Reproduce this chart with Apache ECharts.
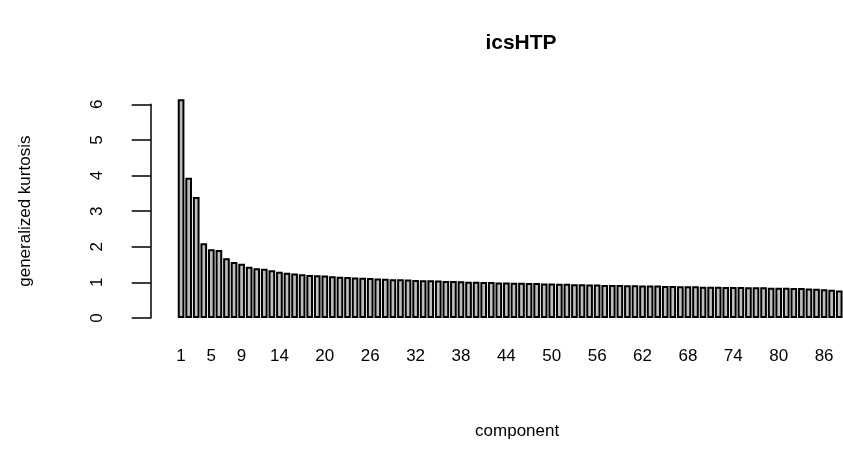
<!DOCTYPE html>
<html>
<head>
<meta charset="utf-8">
<script src="https://cdn.jsdelivr.net/npm/echarts@6/dist/echarts.min.js"></script>
<style>html,body{margin:0;padding:0;background:#fff;}#c{width:843px;height:473px;}</style>
</head>
<body>
<div id="c"></div>
<script>
const components = [];
for (let i = 1; i <= 88; i++) components.push(String(i));
const kurtosis = [6.14, 3.94, 3.40, 2.10, 1.93, 1.91, 1.68, 1.57, 1.52, 1.44,
  1.40, 1.38, 1.34, 1.30, 1.27, 1.25, 1.23, 1.21, 1.20, 1.19,
  1.17, 1.16, 1.15, 1.14, 1.13, 1.12, 1.11, 1.10, 1.09, 1.09,
  1.08, 1.07, 1.06, 1.06, 1.05, 1.04, 1.04, 1.03, 1.02, 1.02,
  1.01, 1.01, 1.00, 1.00, 0.99, 0.99, 0.98, 0.98, 0.97, 0.97,
  0.96, 0.96, 0.95, 0.95, 0.94, 0.94, 0.93, 0.93, 0.93, 0.92,
  0.92, 0.91, 0.91, 0.91, 0.90, 0.90, 0.89, 0.89, 0.89, 0.88,
  0.88, 0.88, 0.87, 0.87, 0.87, 0.86, 0.86, 0.86, 0.85, 0.85,
  0.85, 0.84, 0.84, 0.83, 0.82, 0.81, 0.79, 0.77];
const xTickLabels = ['1','5','9','14','20','26','32','38','44','50','56','62','68','74','80','86'];
const yTicks = [0, 1, 2, 3, 4, 5, 6];

const FONT = 'Liberation Sans, Arial, sans-serif';
const chart = echarts.init(document.getElementById('c'), null, {renderer: 'canvas'});
chart.setOption({
  animation: false,
  backgroundColor: '#ffffff',
  title: {
    text: 'icsHTP', left: 516, top: 28, textAlign: 'center',
    textStyle: {fontFamily: FONT, fontSize: 21, fontWeight: 'bold', color: '#000'}
  },
  grid: {left: 177.3, top: 104.3, width: 669.7, bottom: 155, containLabel: false},
  xAxis: {
    type: 'category', data: components,
    axisLine: {show: false}, axisTick: {show: false}, splitLine: {show: false},
    axisLabel: {
      interval: (idx, val) => xTickLabels.indexOf(val) >= 0,
      margin: 30, fontFamily: FONT, fontSize: 17, color: '#000'
    },
    name: 'component', nameLocation: 'middle', nameGap: 105,
    nameTextStyle: {fontFamily: FONT, fontSize: 17, color: '#000', padding: [0, 0, 0, 14]}
  },
  yAxis: {
    type: 'value', min: 0, max: 6, interval: 1, offset: 26.6,
    axisLine: {show: true, lineStyle: {color: '#000', width: 1.5}},
    axisTick: {show: true, length: 19, lineStyle: {color: '#000', width: 1.5}},
    splitLine: {show: false},
    axisLabel: {
      rotate: 90, margin: 45, fontFamily: FONT, fontSize: 17, color: '#000',
      formatter: v => (yTicks.indexOf(v) >= 0 ? String(v) : '')
    },
    name: 'generalized kurtosis', nameLocation: 'middle', nameGap: 117, nameRotate: 90,
    nameTextStyle: {fontFamily: FONT, fontSize: 17, color: '#000'}
  },
  series: [{
    type: 'bar', data: kurtosis, clip: false,
    barCategoryGap: '12%',
    itemStyle: {color: '#bebebe', borderColor: '#000', borderWidth: 2}
  }]
});
</script>
</body>
</html>
